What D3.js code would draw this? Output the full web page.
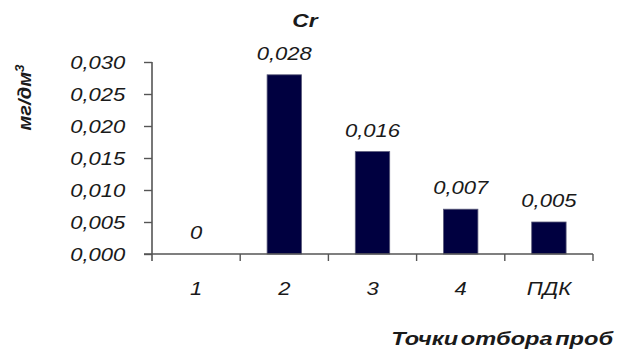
<!DOCTYPE html>
<html>
<head>
<meta charset="utf-8">
<script src="https://cdn.jsdelivr.net/npm/d3@7"></script>
<style>
  html, body { margin: 0; padding: 0; background: #fff; }
  svg { display: block; }
  text { font-family: "Liberation Sans", Arial, sans-serif; fill: #1a1a1a; }
</style>
</head>
<body>
<svg id="chart" width="628" height="358"></svg>
<script>
// Chromium concentration by sampling point
const categories = ["1", "2", "3", "4", "ПДК"];
const values = [0, 0.028, 0.016, 0.007, 0.005];
const yTicks = [0, 0.005, 0.010, 0.015, 0.020, 0.025, 0.030];
const valueLabels = ["0", "0,028", "0,016", "0,007", "0,005"];

const plot = { left: 152, right: 593, top: 62, bottom: 254 };
const stretch = 1.19;      // horizontally widened lettering
const labelSize = "18.5px";

const svg = d3.select("#chart");

const x = d3.scaleBand()
  .domain(categories)
  .range([plot.left, plot.right])
  .paddingInner(0.61)
  .paddingOuter(0.305);

const y = d3.scaleLinear().domain([0, 0.03]).range([plot.bottom, plot.top]);

const commaFmt = d => d3.format(".3f")(d).replace(".", ",");

// Bars
svg.append("g").selectAll("rect")
  .data(values)
  .join("rect")
  .attr("x", (d, i) => x(categories[i]))
  .attr("width", x.bandwidth())
  .attr("y", d => y(d))
  .attr("height", d => plot.bottom - y(d))
  .attr("fill", "#000040")
  .attr("stroke", "#5a5a7a")
  .attr("stroke-width", 0.8);

// Y axis
const yAxis = svg.append("g")
  .attr("transform", `translate(${plot.left},0)`)
  .call(d3.axisLeft(y).tickValues(yTicks).tickFormat(commaFmt).tickSize(8).tickSizeOuter(0));
yAxis.select(".domain").attr("stroke", "#555").attr("stroke-width", 1.6)
  .attr("d", `M0,${plot.top}V${plot.bottom + 7}`);
yAxis.selectAll(".tick line").attr("stroke", "#555").attr("stroke-width", 1.4);
yAxis.selectAll(".tick text")
  .attr("x", -22.5)
  .attr("dy", "0.34em")
  .attr("transform", `scale(${stretch},1)`)
  .style("font-size", labelSize)
  .style("font-style", "italic")
  .attr("fill", "#222");

// X axis
const xAxis = svg.append("g")
  .attr("transform", `translate(0,${plot.bottom})`)
  .call(d3.axisBottom(x).tickSize(0).tickSizeOuter(0));
xAxis.select(".domain").attr("stroke", "#555").attr("stroke-width", 1.6)
  .attr("d", `M${plot.left - 8},0H${plot.right}`);
xAxis.selectAll(".tick text")
  .attr("dy", "0")
  .attr("y", 41)
  .attr("transform", `scale(${stretch},1)`)
  .style("font-size", labelSize)
  .style("font-style", "italic")
  .attr("fill", "#222");

// Category boundary ticks
const half = x.step() * x.paddingInner() / 2;
const boundaries = categories.map(c => x(c) + x.bandwidth() + half);
svg.append("g").selectAll("line")
  .data(boundaries)
  .join("line")
  .attr("x1", d => d).attr("x2", d => d)
  .attr("y1", plot.bottom).attr("y2", plot.bottom + 7)
  .attr("stroke", "#555").attr("stroke-width", 1.4);

// Value labels
svg.append("g").selectAll("g")
  .data(values)
  .join("g")
  .attr("transform", (d, i) => `translate(${x(categories[i]) + x.bandwidth() / 2},${y(d) - 15}) scale(${stretch},1)`)
  .append("text")
  .attr("text-anchor", "middle")
  .style("font-size", labelSize)
  .style("font-style", "italic")
  .attr("fill", "#222")
  .text((d, i) => valueLabels[i]);

// Title
svg.append("g")
  .attr("transform", "translate(305,27) scale(1.2,1)")
  .append("text")
  .attr("text-anchor", "middle")
  .style("font-size", "19px").style("font-weight", "bold").style("font-style", "italic")
  .attr("fill", "#000")
  .text("Cr");

// Y axis title
const yt = svg.append("text")
  .attr("transform", "translate(30.5,97.5) rotate(-90) scale(1.12,1)")
  .attr("text-anchor", "middle")
  .style("font-size", "18px").style("font-weight", "bold").style("font-style", "italic")
  .attr("fill", "#000");
yt.append("tspan").text("мг/дм");
yt.append("tspan").attr("baseline-shift", "super").style("font-size", "12px").text("3");

// X axis title
svg.append("g")
  .attr("transform", "translate(613,345) scale(1.31,1)")
  .append("text")
  .attr("text-anchor", "end")
  .style("font-size", "18px").style("font-weight", "bold").style("font-style", "italic")
  .style("word-spacing", "-3px")
  .attr("fill", "#000")
  .text("Точки отбора проб");
</script>
</body>
</html>
